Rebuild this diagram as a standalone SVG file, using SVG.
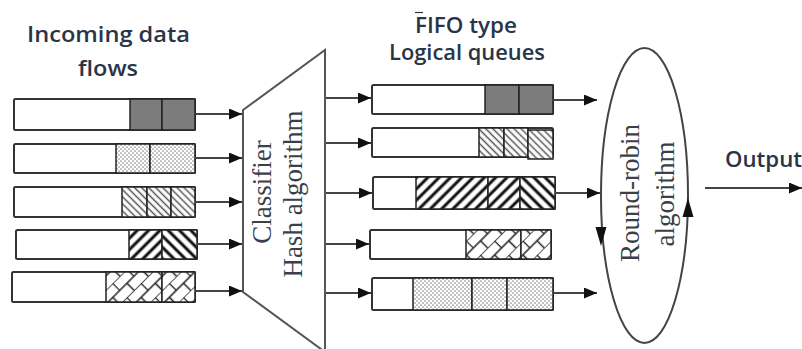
<svg xmlns="http://www.w3.org/2000/svg" width="802" height="349" viewBox="0 0 802 349">
  <style>
    .bar { fill: #ffffff; stroke: #333333; stroke-width: 2; }
    .cell { stroke: #222222; stroke-width: 1.5; }
    .dark { fill: #7c7c7c; }
    .dots { fill: url(#dots); }
    .fine { fill: url(#fineHatch); }
    .fwd { fill: url(#thickFwd); }
    .bwd { fill: url(#thickBack); }
    .brick { fill: url(#brick); }
    .wire { stroke: #444444; stroke-width: 2; fill: none; marker-end: url(#arrow); }
    .shape { fill: #ffffff; stroke: #555555; stroke-width: 2; }
    .serif { font-family: "Liberation Serif", "Times New Roman", serif; font-size: 27px; fill: #3a3f48; }
    .sans { font-family: "Open Sans", Lato, "Liberation Sans", sans-serif; font-size: 21px; font-weight: 600; fill: #2a3447; }
  </style>
  <defs>
    <marker id="arrow" markerUnits="userSpaceOnUse" markerWidth="13" markerHeight="11" refX="13" refY="5.5" orient="auto">
      <path d="M0,0 L13,5.5 L0,11 z" fill="#111111"/>
    </marker>
    <pattern id="dots" width="4" height="4" patternUnits="userSpaceOnUse">
      <rect width="4" height="4" fill="#ffffff"/>
      <circle cx="1" cy="1" r="0.85" fill="#8a8a8a"/>
      <circle cx="3" cy="3" r="0.85" fill="#8a8a8a"/>
    </pattern>
    <pattern id="fineHatch" width="5" height="5" patternUnits="userSpaceOnUse" patternTransform="rotate(-45)">
      <rect width="5" height="5" fill="#ffffff"/>
      <line x1="2.5" y1="0" x2="2.5" y2="5" stroke="#555555" stroke-width="1.5"/>
    </pattern>
    <pattern id="thickFwd" width="8" height="8" patternUnits="userSpaceOnUse" patternTransform="rotate(45)">
      <rect width="8" height="8" fill="#ffffff"/>
      <line x1="4" y1="0" x2="4" y2="8" stroke="#111111" stroke-width="3"/>
    </pattern>
    <pattern id="thickBack" width="8" height="8" patternUnits="userSpaceOnUse" patternTransform="rotate(-45)">
      <rect width="8" height="8" fill="#ffffff"/>
      <line x1="4" y1="0" x2="4" y2="8" stroke="#111111" stroke-width="3"/>
    </pattern>
    <pattern id="brick" width="20" height="20" patternUnits="userSpaceOnUse" patternTransform="rotate(45)">
      <rect width="20" height="20" fill="#ffffff"/>
      <path d="M0,0 V20 M10,0 V20 M0,0.5 H10 M10,10.5 H20" stroke="#222222" stroke-width="1.5" fill="none"/>
    </pattern>
  </defs>

  <!-- headings -->
  <g id="labels">
    <text class="sans" x="27" y="42" textLength="163" lengthAdjust="spacingAndGlyphs">Incoming data</text>
    <text class="sans" x="78" y="76" textLength="60" lengthAdjust="spacingAndGlyphs">flows</text>
    <line x1="415" y1="12.5" x2="423" y2="12.5" stroke="#2a3447" stroke-width="1.2"/>
    <text class="sans" x="415" y="33" textLength="102" lengthAdjust="spacingAndGlyphs">FIFO type</text>
    <text class="sans" x="389" y="60" textLength="156" lengthAdjust="spacingAndGlyphs">Logical queues</text>
    <text class="sans" x="725" y="167" textLength="77" lengthAdjust="spacingAndGlyphs">Output</text>
  </g>

  <!-- incoming flows -->
  <g id="flow1">
    <rect class="bar" x="14" y="99" width="181" height="31" rx="1.5"/>
    <rect class="cell dark" x="130" y="99" width="32" height="31"/>
    <rect class="cell dark" x="162" y="99" width="33" height="31"/>
  </g>
  <g id="flow2">
    <rect class="bar" x="14" y="144" width="181" height="29" rx="1.5"/>
    <rect class="cell dots" x="116" y="144" width="34" height="29"/>
    <rect class="cell dots" x="150" y="144" width="45" height="29"/>
  </g>
  <g id="flow3">
    <rect class="bar" x="14" y="187" width="181" height="30" rx="1.5"/>
    <rect class="cell fine" x="122" y="187" width="25" height="30"/>
    <rect class="cell fine" x="147" y="187" width="24" height="30"/>
    <rect class="cell fine" x="171" y="187" width="24" height="30"/>
  </g>
  <g id="flow4">
    <rect class="bar" x="16" y="230" width="181" height="29" rx="1.5"/>
    <rect class="cell fwd" x="129" y="230" width="33" height="29"/>
    <rect class="cell bwd" x="162" y="230" width="35" height="29"/>
  </g>
  <g id="flow5">
    <rect class="bar" x="12" y="272" width="183" height="30" rx="1.5"/>
    <rect class="cell brick" x="106" y="272" width="56" height="30"/>
    <rect class="cell brick" x="162" y="272" width="33" height="30"/>
  </g>

  <!-- classifier -->
  <g id="classifier">
    <polygon class="shape" points="243,110 325,50 325,352 243,292"/>
    <text class="serif" transform="translate(271,192) rotate(-90)" text-anchor="middle">Classifier</text>
    <text class="serif" transform="translate(302,194) rotate(-90)" text-anchor="middle">Hash algorithm</text>
  </g>

  <!-- logical queues -->
  <g id="queue1">
    <rect class="bar" x="372" y="85" width="181" height="29" rx="1.5"/>
    <rect class="cell dark" x="485" y="85" width="34" height="29"/>
    <rect class="cell dark" x="519" y="85" width="34" height="29"/>
  </g>
  <g id="queue2">
    <rect class="bar" x="372" y="128" width="181" height="29" rx="1.5"/>
    <rect class="cell fine" x="479" y="128" width="25" height="29"/>
    <rect class="cell fine" x="504" y="128" width="24" height="29"/>
    <rect class="cell fine" x="528" y="130" width="25" height="29"/>
  </g>
  <g id="queue3">
    <rect class="bar" x="373" y="177" width="182" height="32" rx="1.5"/>
    <rect class="cell fwd" x="416" y="177" width="72" height="32"/>
    <rect class="cell fwd" x="488" y="177" width="32" height="32"/>
    <rect class="cell bwd" x="520" y="177" width="35" height="32"/>
  </g>
  <g id="queue4">
    <rect class="bar" x="370" y="230" width="181" height="29" rx="1.5"/>
    <rect class="cell brick" x="466" y="230" width="55" height="29"/>
    <rect class="cell brick" x="521" y="230" width="30" height="29"/>
  </g>
  <g id="queue5">
    <rect class="bar" x="372" y="278" width="181" height="32" rx="1.5"/>
    <rect class="cell dots" x="413" y="278" width="59" height="32"/>
    <rect class="cell dots" x="472" y="278" width="35" height="32"/>
    <rect class="cell dots" x="507" y="278" width="46" height="32"/>
  </g>

  <!-- round-robin scheduler -->
  <g id="roundrobin">
    <ellipse cx="644.5" cy="195.5" rx="43.5" ry="147.5" fill="#ffffff" stroke="#444444" stroke-width="2"/>
    <path d="M595.5,227 L606.5,227 L601,246 z" fill="#111111"/>
    <path d="M682.5,217 L693.5,217 L688,198 z" fill="#111111"/>
    <text class="serif" transform="translate(639,193) rotate(-90)" text-anchor="middle">Round-robin</text>
    <text class="serif" transform="translate(674,194) rotate(-90)" text-anchor="middle">algorithm</text>
  </g>

  <!-- connectors -->
  <g id="connectors">
    <line class="wire" x1="195" y1="114" x2="242" y2="114"/>
    <line class="wire" x1="195" y1="158" x2="242" y2="158"/>
    <line class="wire" x1="195" y1="202" x2="242" y2="202"/>
    <line class="wire" x1="197" y1="244" x2="242" y2="244"/>
    <line class="wire" x1="195" y1="291" x2="242" y2="291"/>

    <line class="wire" x1="326" y1="98" x2="371" y2="98"/>
    <line class="wire" x1="326" y1="143" x2="371" y2="143"/>
    <line class="wire" x1="326" y1="193" x2="372" y2="193"/>
    <line class="wire" x1="326" y1="244" x2="369" y2="244"/>
    <line class="wire" x1="326" y1="293" x2="371" y2="293"/>

    <line class="wire" x1="553" y1="100" x2="597" y2="100"/>
    <line class="wire" x1="555" y1="193" x2="600" y2="193"/>
    <line class="wire" x1="553" y1="293" x2="597" y2="293"/>

    <line class="wire" x1="705" y1="188" x2="802" y2="188"/>
  </g>
</svg>
